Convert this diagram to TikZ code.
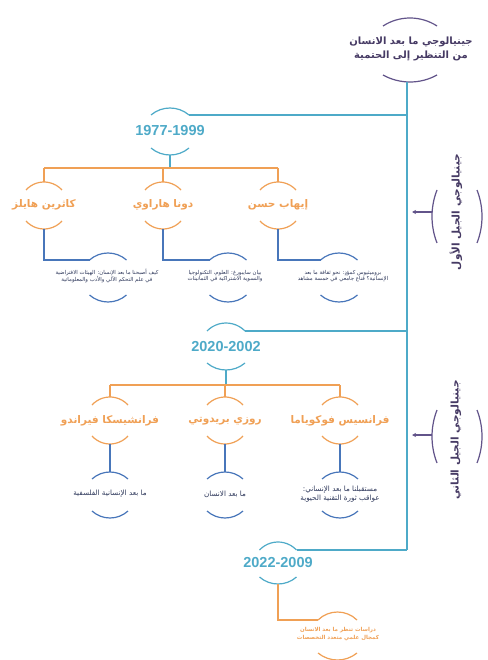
\documentclass[tikz,border=0pt]{standalone}
\usepackage{fontspec}
\setmainfont{Liberation Sans}
\newfontfamily\arabicfont[Script=Arabic]{DejaVu Sans}
\TeXXeTstate=1
\usetikzlibrary{arrows.meta}
\definecolor{tealc}{RGB}{78,170,200}
\definecolor{orangec}{RGB}{240,160,85}
\definecolor{steelc}{RGB}{72,118,186}
\definecolor{purplec}{RGB}{98,84,138}
\definecolor{titlec}{RGB}{70,58,100}
\definecolor{desctext}{RGB}{45,55,90}
\newcommand\RL[1]{\beginR#1\endR}
% top cap: style, cx, peak y, half width, sagitta
\newcommand\mycapT[5]{%
 \pgfmathsetmacro\capR{((#4)*(#4)+(#5)*(#5))/(2*(#5))}%
 \pgfmathsetmacro\capA{asin((#4)/\capR)}%
 \draw[#1] ({#2-#4},{-(#3)-(#5)}) arc[start angle={90+\capA}, end angle={90-\capA}, radius=\capR];}
\newcommand\mycapB[5]{%
 \pgfmathsetmacro\capR{((#4)*(#4)+(#5)*(#5))/(2*(#5))}%
 \pgfmathsetmacro\capA{asin((#4)/\capR)}%
 \draw[#1] ({#2-#4},{-(#3)+(#5)}) arc[start angle={270-\capA}, end angle={270+\capA}, radius=\capR];}
% side parentheses: style, bulge x, centre y, half height, sagitta
\newcommand\myparL[5]{%
 \pgfmathsetmacro\capR{((#4)*(#4)+(#5)*(#5))/(2*(#5))}%
 \pgfmathsetmacro\capA{asin((#4)/\capR)}%
 \draw[#1] ({#2+#5},{-(#3)+(#4)}) arc[start angle={180-\capA}, end angle={180+\capA}, radius=\capR];}
\newcommand\myparR[5]{%
 \pgfmathsetmacro\capR{((#4)*(#4)+(#5)*(#5))/(2*(#5))}%
 \pgfmathsetmacro\capA{asin((#4)/\capR)}%
 \draw[#1] ({#2-#5},{-(#3)+(#4)}) arc[start angle={\capA}, end angle={-\capA}, radius=\capR];}
\tikzset{
 tealline/.style={draw=tealc, line width=1.2pt},
 mainline/.style={draw=tealc, line width=1.5pt},
 orangeline/.style={draw=orangec, line width=1.2pt},
 steelline/.style={draw=steelc, line width=1.2pt},
 purpleline/.style={draw=purplec, line width=1.2pt},
 eralabel/.style={text=tealc, font=\bfseries\fontsize{14.5}{16}\selectfont, inner sep=0pt},
 namelabel/.style={text=orangec, font=\arabicfont\bfseries\fontsize{10.5}{12}\selectfont, inner sep=0pt},
 descsmall/.style={text=desctext, font=\arabicfont\fontsize{5.4}{6.6}\selectfont, align=center, inner sep=0pt},
 descmid/.style={text=desctext, font=\arabicfont\fontsize{7.2}{9}\selectfont, align=center, inner sep=0pt},
 descorange/.style={text=orangec, font=\arabicfont\bfseries\fontsize{5.5}{7.5}\selectfont, align=center, inner sep=0pt},
 titlelabel/.style={text=titlec, font=\arabicfont\bfseries\fontsize{10}{13.5}\selectfont, align=center, inner sep=0pt},
 sidelabel/.style={text=titlec, font=\arabicfont\bfseries\fontsize{10.5}{12}\selectfont, inner sep=0pt, rotate=90},
}
\begin{document}
\begin{tikzpicture}[x=1pt,y=1pt]
\useasboundingbox[fill=white] (0,0) rectangle (487,-660);

% ---------- title ----------
\node[titlelabel] (title) at (411,-49) {\RL{جينيالوجي ما بعد الانسان}\\\RL{من التنظير إلى الحتمية}};
\mycapT{purpleline}{410}{18}{27}{8}
\mycapB{purpleline}{410}{82}{27}{7}
\coordinate (m0) at (407,-82);
\coordinate (m1) at (407,-115);
\coordinate (m2) at (407,-331);
\coordinate (m3) at (407,-550);
\draw[mainline] (m0) -- (m3);

% ---------- side labels ----------
\node[sidelabel] (side1) at (456,-212) {\RL{جينيالوجي الجيل الأول}};
\myparL{purpleline}{432}{216.5}{26.5}{5}
\myparR{purpleline}{482}{216.5}{26.5}{5}
\coordinate (a1s) at (432,-212);
\coordinate (a1e) at (412,-212);
\draw[purpleline, -{Stealth[length=4pt,width=4pt]}] (a1s) -- (a1e);

\node[sidelabel] (side2) at (456,-440) {\RL{جينيالوجي الجيل الثاني}};
\myparL{purpleline}{432}{436.5}{26.5}{5}
\myparR{purpleline}{482}{436.5}{26.5}{5}
\coordinate (a2s) at (432,-435);
\coordinate (a2e) at (412,-435);
\draw[purpleline, -{Stealth[length=4pt,width=4pt]}] (a2s) -- (a2e);

% ---------- era 1 ----------
\node[eralabel] (e1) at (170,-131) {1977-1999};
\mycapT{tealline}{170}{108}{19}{7}
\mycapB{tealline}{170}{155}{19}{7}
\coordinate (e1r) at (189,-115);
\coordinate (e1b) at (170,-155);
\coordinate (o1m) at (170,-168);
\coordinate (o1L) at (44,-168);
\coordinate (o1R) at (278,-168);
\draw[tealline] (e1r) -- (m1);
\draw[tealline] (e1b) -- (o1m);
\draw[orangeline] (o1L) -- (o1R);

\node[namelabel] (n11) at (44,-205) {\RL{كاثرين هايلز}};
\node[namelabel] (n12) at (163,-205) {\RL{دونا هاراوي}};
\node[namelabel] (n13) at (278,-205) {\RL{إيهاب حسن}};
\foreach \x in {44,163,278}{
 \mycapT{orangeline}{\x}{182}{18}{8}
 \mycapB{orangeline}{\x}{229}{18}{8}
}
\coordinate (n11t) at (44,-182);  \coordinate (n11b) at (44,-229);
\coordinate (n12t) at (163,-182); \coordinate (n12b) at (163,-229);
\coordinate (n13t) at (278,-182); \coordinate (n13b) at (278,-229);
\draw[orangeline] (44,-168) -- (n11t);
\draw[orangeline] (163,-168) -- (n12t);
\draw[orangeline] (278,-168) -- (n13t);

\node[descsmall] (d11) at (107,-276) {\RL{كيف أصبحنا ما بعد الإنسان: الهيئات الافتراضية}\\\RL{في علم التحكم الآلي والأدب والمعلوماتية}};
\node[descsmall] (d12) at (225,-276) {\RL{بيان سايبورغ: العلوم، التكنولوجيا}\\\RL{والنسوية الاشتراكية في الثمانينات}};
\node[descsmall] (d13) at (343,-276) {\RL{بروميثيوس كمؤدٍ: نحو ثقافة ما بعد}\\\RL{الإنسانية؟ قناع جامعي في خمسة مشاهد}};
\foreach \x in {108,228,339}{
 \mycapT{steelline}{\x}{253}{18.5}{7}
 \mycapB{steelline}{\x}{302}{18.5}{7}
}
\coordinate (d11l) at (89.5,-260);
\coordinate (d12l) at (209.5,-260);
\coordinate (d13l) at (320.5,-260);
\draw[steelline] (n11b) |- (d11l);
\draw[steelline] (n12b) |- (d12l);
\draw[steelline] (n13b) |- (d13l);

% ---------- era 2 ----------
\node[eralabel] (e2) at (226,-347) {2020-2002};
\mycapT{tealline}{226}{323}{19}{8}
\mycapB{tealline}{226}{370}{19}{7}
\coordinate (e2r) at (245,-331);
\coordinate (e2b) at (226,-370);
\coordinate (o2m) at (226,-385);
\coordinate (o2L) at (110,-385);
\coordinate (o2R) at (340,-385);
\draw[tealline] (e2r) -- (m2);
\draw[tealline] (e2b) -- (o2m);
\draw[orangeline] (o2L) -- (o2R);

\node[namelabel] (n21) at (110,-421) {\RL{فرانشيسكا فيراندو}};
\node[namelabel] (n22) at (225,-421) {\RL{روزي بريدوتي}};
\node[namelabel] (n23) at (340,-421) {\RL{فرانسيس فوكوياما}};
\foreach \x in {110,225,340}{
 \mycapT{orangeline}{\x}{397}{18}{8}
 \mycapB{orangeline}{\x}{444}{18}{8}
 \mycapT{steelline}{\x}{472}{18}{7}
 \mycapB{steelline}{\x}{518}{18}{7}
}
\coordinate (n21t) at (110,-397); \coordinate (n21b) at (110,-444);
\coordinate (n22t) at (225,-397); \coordinate (n22b) at (225,-444);
\coordinate (n23t) at (340,-397); \coordinate (n23b) at (340,-444);
\draw[orangeline] (110,-385) -- (n21t);
\draw[orangeline] (225,-385) -- (n22t);
\draw[orangeline] (340,-385) -- (n23t);

\node[descmid] (d21) at (110,-494) {\RL{ما بعد الإنسانية الفلسفية}};
\node[descmid] (d22) at (225,-494) {\RL{ما بعد الانسان}};
\node[descmid] (d23) at (340,-494) {\RL{مستقبلنا ما بعد الإنساني:}\\\RL{عواقب ثورة التقنية الحيوية}};
\coordinate (d21t) at (110,-472);
\coordinate (d22t) at (225,-472);
\coordinate (d23t) at (340,-472);
\draw[steelline] (n21b) -- (d21t);
\draw[steelline] (n22b) -- (d22t);
\draw[steelline] (n23b) -- (d23t);

% ---------- era 3 ----------
\node[eralabel] (e3) at (278,-563) {2022-2009};
\mycapT{tealline}{278}{542}{18.5}{8}
\mycapB{tealline}{278}{584}{18.5}{7}
\coordinate (e3r) at (296.5,-550);
\coordinate (e3b) at (278,-584);
\draw[tealline] (e3r) -- (m3);

\node[descorange] (d3) at (338,-634) {\RL{دراسات تنظر ما بعد الانسان}\\\RL{كمجال علمي متعدد التخصصات}};
\mycapT{orangeline}{337.5}{612}{19.5}{8}
\mycapB{orangeline}{337.5}{660}{19.5}{7}
\coordinate (d3l) at (318,-620);
\draw[orangeline] (e3b) |- (d3l);
\end{tikzpicture}
\end{document}
